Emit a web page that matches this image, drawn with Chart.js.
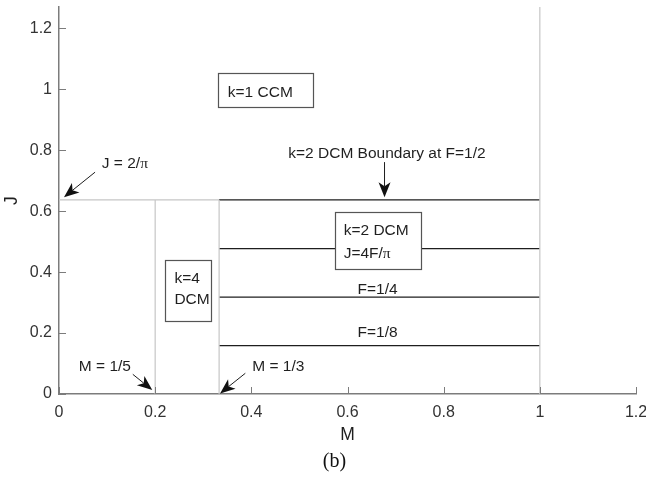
<!DOCTYPE html>
<html><head><meta charset="utf-8">
<script src="https://cdn.jsdelivr.net/npm/chart.js@4/dist/chart.umd.min.js"></script>
<style>html,body{margin:0;padding:0;background:#fff}#wrap{width:646px;height:477px}</style>
</head><body><div id="wrap"><canvas id="c" width="646" height="477"></canvas></div>
<script>
// ---- data ----
const xTicks = [0, 0.2, 0.4, 0.6, 0.8, 1, 1.2];
const yTicks = [0, 0.2, 0.4, 0.6, 0.8, 1, 1.2];
const xRange = [0, 1.2];
const yRange = [0, 1.27];
const jBoundary = 0.637;                 // J = 2/pi, CCM/DCM boundary
const boundaryM = [0.2, 0.333, 1];       // grey vertical boundaries: M = 1/5, 1/3, 1
const boundaryTopJ = [0.637, 0.637, 1.27];
const dcmM = [0.333, 1];                 // extent of the k=2 DCM lines
const dcmJ = [0.637, 0.477, 0.318, 0.159]; // F = 1/2, 3/8, 1/4, 1/8  (J = 4F/pi)

const SANS = '"Liberation Sans", Arial, Helvetica, sans-serif';
const SERIF = '"Liberation Serif", "Times New Roman", serif';
const GREY = '#c6c6c6', DARK = '#1e1e1e', AXIS = '#7c7c7c', TXT = '#1f1f1f';

const datasets = [];
datasets.push({data: [{x: xRange[0], y: jBoundary}, {x: boundaryM[1], y: jBoundary}], borderColor: GREY, borderWidth: 1.2});
boundaryM.forEach((m, i) => datasets.push({data: [{x: m, y: 0}, {x: m, y: boundaryTopJ[i]}], borderColor: GREY, borderWidth: 1.2}));
dcmJ.forEach(j => datasets.push({data: [{x: dcmM[0], y: j}, {x: dcmM[1], y: j}], borderColor: DARK, borderWidth: 1.3}));
datasets.forEach(d => { d.showLine = true; d.pointRadius = 0; d.pointHoverRadius = 0; d.fill = false; });

// annotation layout (data coordinates)
const notes = {
  boxes: [
    {m0: 0.331, m1: 0.529, j0: 0.941, j1: 1.052},
    {m0: 0.573, m1: 0.752, j0: 0.410, j1: 0.597},
    {m0: 0.221, m1: 0.317, j0: 0.239, j1: 0.439}
  ],
  texts: [
    {parts: [['k=1 CCM']], m: 0.351, j: 0.992, align: 'left'},
    {parts: [['J = 2/'], ['\u03c0', SERIF]], m: 0.089, j: 0.759, align: 'left'},
    {parts: [['k=2 DCM Boundary at F=1/2']], m: 0.682, j: 0.792, align: 'center'},
    {parts: [['k=2 DCM']], m: 0.592, j: 0.541, align: 'left'},
    {parts: [['J=4F/'], ['\u03c0', SERIF]], m: 0.592, j: 0.466, align: 'left'},
    {parts: [['k=4']], m: 0.240, j: 0.384, align: 'left'},
    {parts: [['DCM']], m: 0.240, j: 0.315, align: 'left'},
    {parts: [['F=1/4']], m: 0.6625, j: 0.348, align: 'center'},
    {parts: [['F=1/8']], m: 0.6625, j: 0.207, align: 'center'},
    {parts: [['M = 1/5']], m: 0.0955, j: 0.094, align: 'center'},
    {parts: [['M = 1/3']], m: 0.456, j: 0.094, align: 'center'}
  ],
  arrows: [
    {from: [0.075, 0.728], to: [0.0104, 0.646]},
    {from: [0.677, 0.761], to: [0.677, 0.646]},
    {from: [0.1535, 0.0646], to: [0.194, 0.013]},
    {from: [0.3875, 0.068], to: [0.335, 0.002]}
  ]
};

const decor = {
  id: 'decor',
  afterDatasetsDraw(chart) {
    const {ctx, chartArea: a, scales: {x, y}} = chart;
    const X = v => x.getPixelForValue(v), Y = v => y.getPixelForValue(v);
    ctx.save();
    // inward tick marks
    ctx.strokeStyle = AXIS; ctx.lineWidth = 1;
    x.ticks.forEach(t => { const p = Math.round(X(t.value)) + 0.5; ctx.beginPath(); ctx.moveTo(p, a.bottom); ctx.lineTo(p, a.bottom - 7); ctx.stroke(); });
    y.ticks.forEach(t => { const p = Math.round(Y(t.value)) + 0.5; ctx.beginPath(); ctx.moveTo(a.left, p); ctx.lineTo(a.left + 7, p); ctx.stroke(); });
    // boxes
    notes.boxes.forEach(b => {
      const l = Math.round(X(b.m0)) + 0.5, r = Math.round(X(b.m1)) + 0.5;
      const t = Math.round(Y(b.j1)) + 0.5, bt = Math.round(Y(b.j0)) + 0.5;
      ctx.fillStyle = '#fff'; ctx.fillRect(l, t, r - l, bt - t);
      ctx.strokeStyle = '#555'; ctx.lineWidth = 1.2; ctx.strokeRect(l, t, r - l, bt - t);
    });
    // texts
    const size = 15.5;
    notes.texts.forEach(tx => {
      const fonts = tx.parts.map(p => (size) + 'px ' + (p[1] || SANS));
      let w = 0; const ws = tx.parts.map((p, i) => { ctx.font = fonts[i]; const m = ctx.measureText(p[0]).width; w += m; return m; });
      let px = X(tx.m); if (tx.align === 'center') px -= w / 2;
      const py = Y(tx.j) + 0.36 * size;
      ctx.fillStyle = TXT; ctx.textBaseline = 'alphabetic'; ctx.textAlign = 'left';
      tx.parts.forEach((p, i) => { ctx.font = fonts[i]; ctx.fillText(p[0], px, py); px += ws[i]; });
    });
    // arrows
    notes.arrows.forEach(ar => {
      const x0 = X(ar.from[0]), y0 = Y(ar.from[1]), x1 = X(ar.to[0]), y1 = Y(ar.to[1]);
      const ang = Math.atan2(y1 - y0, x1 - x0);
      const L = 15, W = 6, N = 4;
      const ca = Math.cos(ang), sa = Math.sin(ang);
      const bx = x1 - ca * L, by = y1 - sa * L;
      ctx.strokeStyle = DARK; ctx.lineWidth = 1;
      ctx.beginPath(); ctx.moveTo(x0, y0); ctx.lineTo(x1 - ca * (L - N), y1 - sa * (L - N)); ctx.stroke();
      ctx.fillStyle = '#111';
      ctx.beginPath();
      ctx.moveTo(x1, y1);
      ctx.lineTo(bx - sa * W, by + ca * W);
      ctx.lineTo(x1 - ca * (L - N), y1 - sa * (L - N));
      ctx.lineTo(bx + sa * W, by - ca * W);
      ctx.closePath(); ctx.fill();
    });
    ctx.restore();
  },
  afterDraw(chart) {
    const {ctx, chartArea: a} = chart;
    ctx.save();
    ctx.font = '20px ' + SERIF; ctx.fillStyle = '#111'; ctx.textAlign = 'center'; ctx.textBaseline = 'middle';
    ctx.fillText('(b)', (a.left + a.right) / 2 - 13, a.bottom + 68);
    ctx.restore();
  }
};

const fmt = v => String(+Number(v).toFixed(2));

new Chart(document.getElementById('c'), {
  type: 'scatter',
  data: {datasets},
  options: {
    responsive: false, animation: false, devicePixelRatio: 1,
    events: [],
    layout: {padding: {top: 7, right: 10, left: 0, bottom: 31}},
    plugins: {legend: {display: false}, tooltip: {enabled: false}},
    scales: {
      x: {
        type: 'linear', min: xRange[0], max: xRange[1],
        afterBuildTicks: s => { s.ticks = xTicks.map(v => ({value: v})); },
        afterFit: s => { s.height = 52; s.paddingLeft = 0; s.paddingRight = 0; },
        grid: {drawOnChartArea: false, drawTicks: false},
        border: {color: AXIS, width: 1.5},
        ticks: {font: {family: SANS, size: 16}, color: '#333', padding: 9, callback: fmt, maxRotation: 0, autoSkip: false},
        title: {display: true, text: 'M', font: {family: SANS, size: 17.5}, color: TXT, padding: 0}
      },
      y: {
        type: 'linear', min: yRange[0], max: yRange[1],
        afterBuildTicks: s => { s.ticks = yTicks.map(v => ({value: v})); },
        afterFit: s => { s.width = 59; s.paddingTop = 0; s.paddingBottom = 0; },
        grid: {drawOnChartArea: false, drawTicks: false},
        border: {color: AXIS, width: 1.5},
        ticks: {font: {family: SANS, size: 16}, color: '#333', padding: 7, callback: fmt, autoSkip: false},
        title: {display: true, text: 'J', font: {family: SANS, size: 17.5}, color: TXT, padding: {top: 2, bottom: 0}}
      }
    }
  },
  plugins: [decor]
});
</script>
</body></html>
